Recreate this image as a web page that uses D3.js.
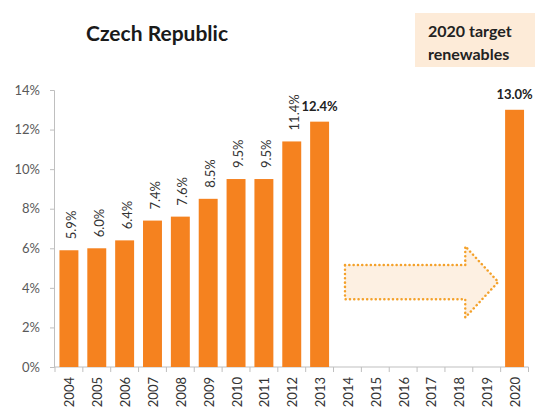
<!DOCTYPE html>
<html lang="en">
<head>
<meta charset="UTF-8">
<title>Czech Republic renewables</title>
<script src="https://cdn.jsdelivr.net/npm/d3@7"></script>
<style>
  body { margin: 0; background: #fff; }
  svg { display: block; font-family: Lato, "Open Sans", sans-serif; }
</style>
</head>
<body>
<script>
// data
let years = ['2004', '2005', '2006', '2007', '2008', '2009', '2010', '2011', '2012',
  '2013', '2014', '2015', '2016', '2017', '2018', '2019', '2020'];
let shares = [5.9, 6.0, 6.4, 7.4, 7.6, 8.5, 9.5, 9.5, 11.4, 12.4,
  null, null, null, null, null, null, 13.0];
let boldLabels = ['2013', '2020'];
let yTicks = [0, 2, 4, 6, 8, 10, 12, 14];

let width = 536;
let height = 408;
let orange = '#f5821f';

let data = years.map(function (y, i) {
  return {year: y, value: shares[i]};
});

let svg = d3.select('body').append('svg')
  .attr('width', width)
  .attr('height', height);

let x = d3.scaleBand()
  .domain(years)
  .range([55, 528.5])
  .paddingInner(0.32)
  .paddingOuter(0.16);

let y = d3.scaleLinear()
  .domain([0, 14])
  .range([367, 90]);

// title
svg.append('text')
  .attr('x', 86)
  .attr('y', 41)
  .attr('font-size', 21)
  .attr('font-weight', 'bold')
  .attr('fill', '#1a1a1a')
  .text('Czech Republic');

// target box
svg.append('rect')
  .attr('x', 415)
  .attr('y', 13)
  .attr('width', 120)
  .attr('height', 54)
  .attr('fill', '#fdebd8');

svg.append('text')
  .attr('font-size', 16)
  .attr('font-weight', 'bold')
  .attr('fill', '#222')
  .selectAll('tspan')
  .data(['2020 target', 'renewables'])
  .enter()
  .append('tspan')
  .attr('x', 428)
  .attr('y', function (d, i) { return 37 + i * 23; })
  .text(function (d) { return d; });

// y axis
let yAxis = d3.axisLeft(y)
  .tickValues(yTicks)
  .tickSize(4)
  .tickFormat(function (d) { return d + '%'; });

let yG = svg.append('g')
  .attr('transform', 'translate(54,0)')
  .call(yAxis);
yG.select('.domain').attr('stroke', '#bfbfbf');
yG.selectAll('.tick line').attr('stroke', '#bfbfbf');
yG.selectAll('.tick text')
  .attr('x', -14)
  .attr('font-size', 13)
  .attr('font-family', 'Lato, sans-serif')
  .attr('fill', '#595959');

// x axis
let xAxis = d3.axisBottom(x).tickSize(0).tickSizeOuter(0);
let xG = svg.append('g')
  .attr('transform', 'translate(0,' + y(0) + ')')
  .call(xAxis);
xG.select('.domain')
  .attr('d', 'M54,0H' + x.range()[1])
  .attr('stroke', '#bfbfbf');
xG.selectAll('.tick text')
  .attr('transform', 'rotate(-90)')
  .attr('text-anchor', 'end')
  .attr('x', -10)
  .attr('y', 0)
  .attr('dy', '0.42em')
  .attr('font-size', 13)
  .attr('font-family', 'Lato, sans-serif')
  .attr('fill', '#333');

// boundary ticks between categories
let step = x.step();
let bounds = years.map(function (d) { return x(d) + x.bandwidth() / 2 - step / 2; });
bounds.push(x(years[years.length - 1]) + x.bandwidth() / 2 + step / 2);
xG.selectAll('line.bound')
  .data(bounds)
  .enter()
  .append('line')
  .attr('class', 'bound')
  .attr('x1', function (d) { return d; })
  .attr('x2', function (d) { return d; })
  .attr('y1', 0)
  .attr('y2', 5)
  .attr('stroke', '#bfbfbf');

// bars
let shown = data.filter(function (d) { return d.value !== null; });
svg.append('g')
  .selectAll('rect')
  .data(shown)
  .enter()
  .append('rect')
  .attr('x', function (d) { return x(d.year); })
  .attr('y', function (d) { return y(d.value); })
  .attr('width', x.bandwidth())
  .attr('height', function (d) { return y(0) - y(d.value); })
  .attr('fill', orange);

// rotated value labels
svg.append('g')
  .selectAll('text')
  .data(shown.filter(function (d) { return boldLabels.indexOf(d.year) < 0; }))
  .enter()
  .append('text')
  .attr('transform', function (d) {
    return 'translate(' + (x(d.year) + x.bandwidth() / 2) + ',' + (y(d.value) - 11) + ') rotate(-90)';
  })
  .attr('dy', '0.55em')
  .attr('font-size', 13)
  .attr('fill', '#333')
  .text(function (d) { return d.value.toFixed(1) + '%'; });

// bold horizontal labels
svg.append('g')
  .selectAll('text')
  .data(shown.filter(function (d) { return boldLabels.indexOf(d.year) >= 0; }))
  .enter()
  .append('text')
  .attr('x', function (d) { return x(d.year) + x.bandwidth() / 2; })
  .attr('y', function (d) { return y(d.value) - 11; })
  .attr('text-anchor', 'middle')
  .attr('font-size', 13)
  .attr('font-weight', 'bold')
  .attr('fill', '#222')
  .text(function (d) { return d.value.toFixed(1) + '%'; });

// dotted arrow towards the target
let ax0 = x('2014') + 7;
let ax1 = x('2019') - 12;
let axTip = x('2019') + 21;
let arrow = d3.path();
arrow.moveTo(ax0, y(5.15));
arrow.lineTo(ax1, y(5.15));
arrow.lineTo(ax1, y(6.1));
arrow.lineTo(axTip, y(4.3));
arrow.lineTo(ax1, y(2.5));
arrow.lineTo(ax1, y(3.43));
arrow.lineTo(ax0, y(3.43));
arrow.closePath();

svg.append('path')
  .attr('d', arrow.toString())
  .attr('fill', '#fdf0e2')
  .attr('stroke', '#f4a12a')
  .attr('stroke-width', 2.5)
  .attr('stroke-dasharray', '0.1 4.2')
  .attr('stroke-linecap', 'round');
</script>
</body>
</html>
